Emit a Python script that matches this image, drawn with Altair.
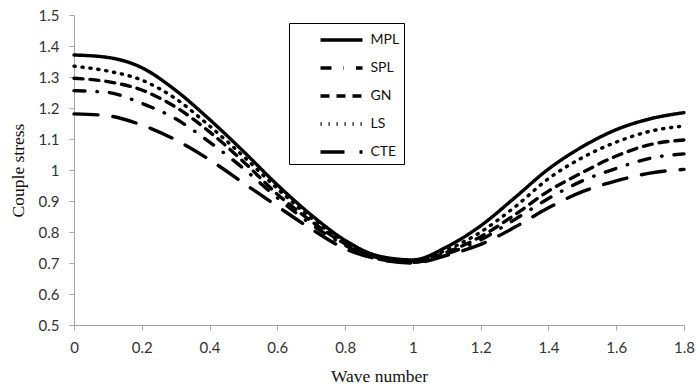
import altair as alt
import pandas as pd

wave = [0.0, 0.1, 0.2, 0.3, 0.4, 0.5, 0.6, 0.7, 0.8, 0.9, 1.0, 1.1, 1.2, 1.3, 1.4, 1.5, 1.6, 1.7, 1.8]
mpl = [1.371, 1.363, 1.330, 1.257, 1.163, 1.060, 0.952, 0.855, 0.773, 0.722, 0.710, 0.752, 0.820, 0.910, 1.003, 1.075, 1.130, 1.165, 1.185]
spl = [1.256, 1.250, 1.215, 1.165, 1.090, 1.005, 0.910, 0.825, 0.757, 0.713, 0.702, 0.730, 0.775, 0.840, 0.908, 0.965, 1.005, 1.038, 1.052]
gn = [1.296, 1.285, 1.258, 1.203, 1.123, 1.027, 0.922, 0.835, 0.762, 0.716, 0.703, 0.735, 0.785, 0.855, 0.932, 0.992, 1.045, 1.082, 1.097]
ls = [1.335, 1.319, 1.290, 1.230, 1.142, 1.044, 0.940, 0.845, 0.768, 0.718, 0.706, 0.742, 0.800, 0.880, 0.972, 1.040, 1.090, 1.125, 1.142]
cte = [1.181, 1.175, 1.145, 1.097, 1.033, 0.958, 0.883, 0.810, 0.746, 0.712, 0.700, 0.725, 0.760, 0.815, 0.878, 0.930, 0.965, 0.990, 1.002]

names = ["MPL", "SPL", "GN", "LS", "CTE"]
series = [mpl, spl, gn, ls, cte]
dashes = [[1, 0], [11, 12, 0.5, 12], [9, 7], [1.2, 6.8], [24, 15]]

rows = []
for n, vals in zip(names, series):
    for w, v in zip(wave, vals):
        rows.append({"wave": w, "value": v, "series": n})
df = pd.DataFrame(rows)

x_ticks = [0, 0.2, 0.4, 0.6, 0.8, 1.0, 1.2, 1.4, 1.6, 1.8]
y_ticks = [0.5, 0.6, 0.7, 0.8, 0.9, 1.0, 1.1, 1.2, 1.3, 1.4, 1.5]

tick_font = "Lato"
title_font = "Liberation Serif"

chart = alt.Chart(df).mark_line(
    color="black", strokeWidth=3.4, strokeCap="round", interpolate="monotone"
).encode(
    x=alt.X("wave:Q", scale=alt.Scale(domain=[0, 1.8], nice=False),
            axis=alt.Axis(values=x_ticks, format=".1~f", title="Wave number",
                          grid=False, domainColor="#a6a6a6", tickColor="#a6a6a6",
                          tickSize=5, labelPadding=10, labelFont=tick_font,
                          labelFontSize=15, labelColor="#333333",
                          titleFont=title_font, titleFontSize=17.5,
                          titleFontWeight="normal", titleColor="#111111",
                          titlePadding=12, labelFlush=False)),
    y=alt.Y("value:Q", scale=alt.Scale(domain=[0.5, 1.5], nice=False, zero=False),
            axis=alt.Axis(values=y_ticks, format=".1~f", title="Couple stress",
                          grid=False, domainColor="#a6a6a6", tickColor="#a6a6a6",
                          tickSize=5, labelPadding=10, labelFont=tick_font,
                          labelFontSize=15, labelColor="#333333",
                          titleFont=title_font, titleFontSize=17.5,
                          titleFontWeight="normal", titleColor="#111111",
                          titlePadding=11)),
    strokeDash=alt.StrokeDash(
        "series:N",
        scale=alt.Scale(domain=names, range=dashes),
        sort=names,
        legend=alt.Legend(
            title=None, orient="none", legendX=215, legendY=8,
            strokeColor="black", fillColor="white", padding=4.5,
            symbolType="M-2,0H2", symbolSize=441, symbolStrokeWidth=3.4,
            symbolStrokeColor="black", symbolOffset=35.5,
            labelFont=tick_font, labelFontSize=14,
            labelColor="#111111", rowPadding=8, labelOffset=16.5,
        ),
    ),
).properties(
    width=610, height=310,
    autosize=alt.AutoSizeParams(type="none"),
    padding={"left": 74, "top": 15, "right": 13, "bottom": 63},
).configure_view(stroke=None)

chart.save("out.html", embed_options={"renderer": "svg", "actions": False})
